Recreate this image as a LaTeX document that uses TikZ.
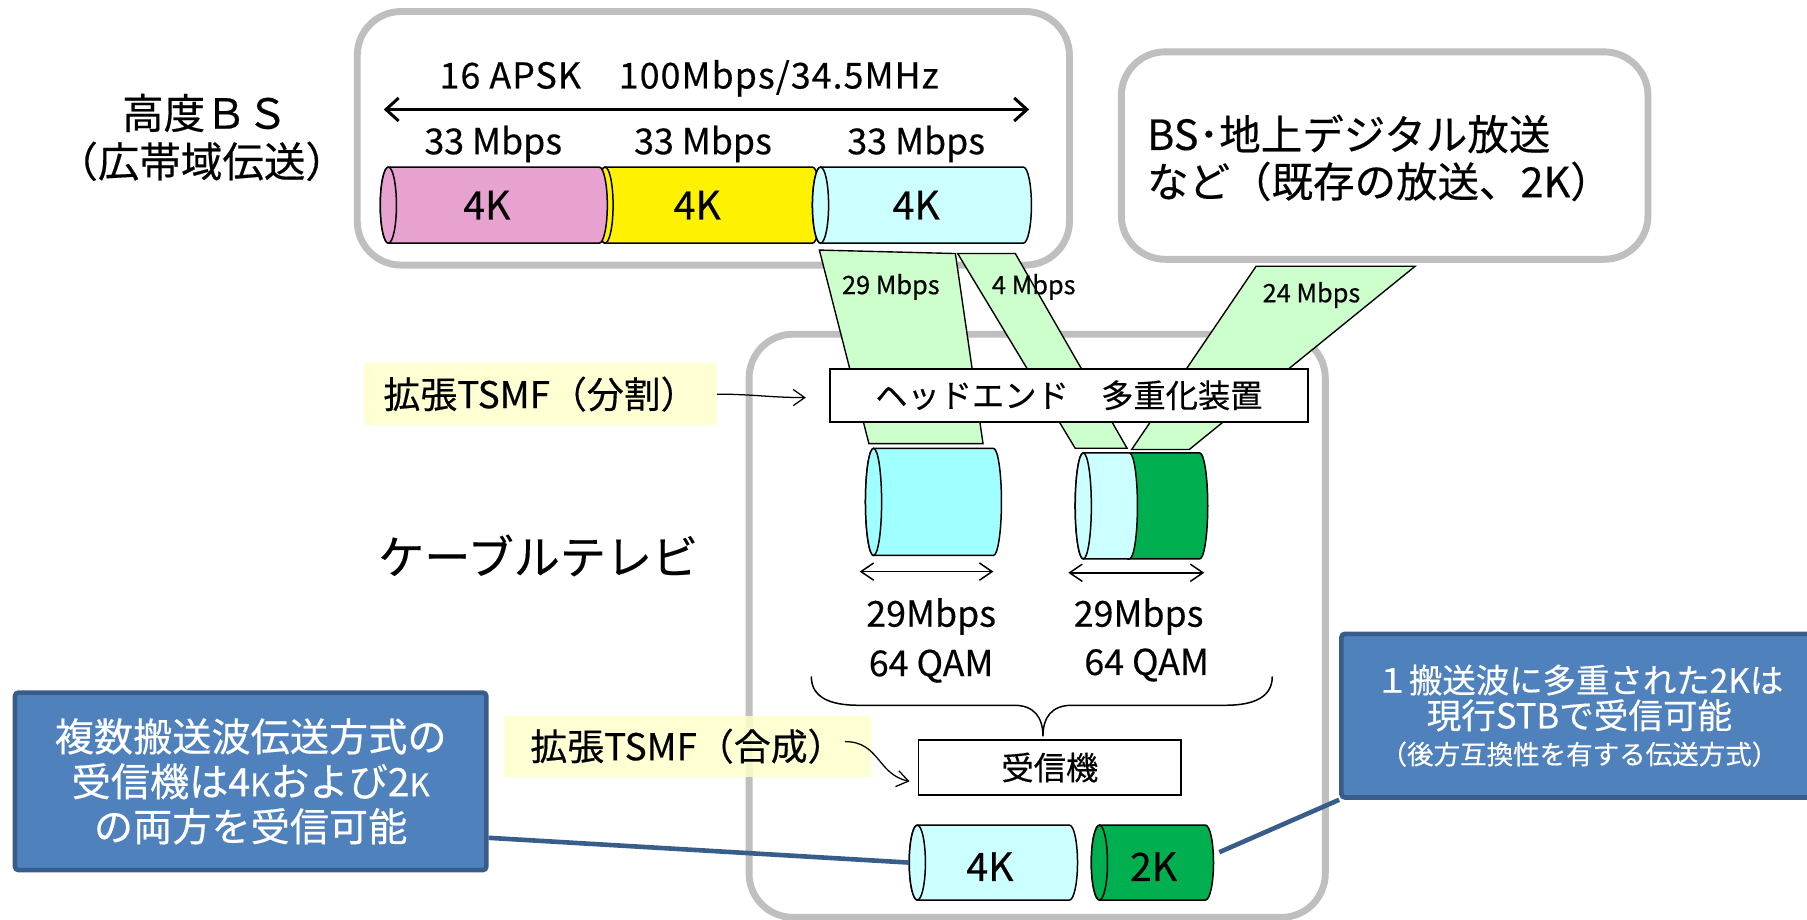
\documentclass[tikz,border=0pt]{standalone}
\usepackage{fontspec}
\newfontfamily\jpfont[FakeBold=0.4]{Noto Sans CJK JP}
\usetikzlibrary{arrows.meta,positioning}

\definecolor{panelgray}{HTML}{BFBFBF}
\definecolor{cylpink}{HTML}{E8A2D0}
\definecolor{cylcyan}{HTML}{CCFFFF}
\definecolor{cylaqua}{HTML}{A0FFFF}
\definecolor{cylgreen}{HTML}{00B050}
\definecolor{bandgreen}{HTML}{CCFFCC}
\definecolor{notebg}{HTML}{FFFFCC}
\definecolor{calloutblue}{HTML}{4F81BD}
\definecolor{calloutedge}{HTML}{385D8A}

\newcommand{\fsz}[2]{\jpfont\fontsize{#1pt}{#2pt}\selectfont}
\newcommand{\smallk}{{\fontsize{27pt}{40pt}\selectfont K}}

% horizontal cylinder: name, colour, left, right, top, bottom
\newcommand{\hcyl}[6]{%
  \filldraw[fill=#2, line width=1.3pt] (#3+7,#5) -- (#4-7,#5)
    arc (-90:90:7 and {(#6-#5)/2}) -- (#3+7,#6)
    arc (90:270:7 and {(#6-#5)/2}) -- cycle;
  \filldraw[fill=#2, line width=1.3pt] (#3+7,{(#5+#6)/2}) ellipse [x radius=7, y radius={(#6-#5)/2}];
  \coordinate (#1) at ({(#3+#4)/2},{(#5+#6)/2});
  \coordinate (#1-w) at (#3,{(#5+#6)/2});
  \coordinate (#1-e) at (#4,{(#5+#6)/2});
}

\tikzset{
  panel/.style={draw=panelgray, line width=6pt, rounded corners=38pt},
  band/.style={draw, fill=bandgreen, line width=1.2pt},
  block/.style={draw, fill=white, line width=1.5pt, inner sep=0pt},
  note/.style={fill=notebg, fill opacity=0.85, text opacity=1, inner sep=0pt},
  callout/.style={draw=calloutedge, fill=calloutblue, line width=4pt, rounded corners=3pt,
    text=white, align=center, inner sep=0pt},
  link/.style={draw=calloutedge, line width=4pt},
  spanarrow/.style={line width=2.6pt,
    {Straight Barb[length=11pt,width=20pt]}-{Straight Barb[length=11pt,width=20pt]}},
  ratearrow/.style={line width=1.3pt,
    {Straight Barb[length=11pt,width=15pt]}-{Straight Barb[length=11pt,width=15pt]}},
  pointer/.style={line width=1.1pt, -{Straight Barb[length=10pt,width=14pt]}},
}

\begin{document}
\begin{tikzpicture}[x=1pt, y=-1pt]
  \useasboundingbox (0,0) rectangle (1568,798);

  % panels
  \draw[panel] (310,10) rectangle (928,230);
  \draw[panel] (973,45) rectangle (1430,225);
  \draw[panel] (650,290) rectangle (1150,796);

  % advanced BS
  \node[font=\fsz{36}{36}] (hbs) at (178,98) {高度ＢＳ};
  \node[font=\fsz{36}{36}, inner sep=0pt] (hbswide) at (175,140) {（広帯域伝送）};

  \node[font=\fsz{31}{31}\addfontfeature{LetterSpace=3}] (mod) at (598,68) {16 APSK　100Mbps/34.5MHz};
  \coordinate (spanL) at (333,95);
  \coordinate (spanR) at (893,95);
  \draw[spanarrow] (spanL) -- (spanR);

  \node[font=\fsz{31}{31}] (rateA) at (428,125) {33 Mbps};
  \node[font=\fsz{31}{31}] (rateB) at (610,125) {33 Mbps};
  \node[font=\fsz{31}{31}] (rateC) at (795,125) {33 Mbps};

  \hcyl{cylB}{yellow}{518}{712}{145}{211}
  \hcyl{cylA}{cylpink}{330}{527}{145}{211}
  \hcyl{cylC}{cylcyan}{705}{895}{145}{211}
  \node[font=\fsz{34}{34}] (uhdA) at ([xshift=-6pt]cylA) {4K};
  \node[font=\fsz{34}{34}] (uhdB) at ([xshift=-10pt]cylB) {4K};
  \node[font=\fsz{34}{34}] (uhdC) at ([xshift=-5pt]cylC) {4K};

  % existing broadcasts
  \node[font=\fsz{36}{41}, align=left] (legacy) at (1197,137) {BS･地上デジタル放送\\など（既存の放送、2K）};

  % streams into the head end
  \draw[band] (711,217) -- (829,220) -- (853,385) -- (754,385) -- cycle;
  \draw[band] (831,220) -- (881,220) -- (978,389) -- (933,389) -- cycle;
  \draw[band] (1090,231) -- (1228,231) -- (1032,390) -- (982,390) -- cycle;
  \node[font=\fsz{22}{22}] (bandA) at (773,249) {29 Mbps};
  \node[font=\fsz{22}{22}] (bandB) at (897,249) {4 Mbps};
  \node[font=\fsz{22}{22}] (bandC) at (1138,256) {24 Mbps};

  \node[block, minimum width=415pt, minimum height=46pt, font=\fsz{28}{28}] (headend) at (927.5,343) {ヘッドエンド　多重化装置};

  \node[note, minimum width=306pt, minimum height=54pt, font=\fsz{32}{32}] (split) at (469,342) {拡張TSMF（分割）};
  \draw[pointer] (split.east) to[out=0,in=180] ([xshift=-20pt,yshift=-2pt]headend.west);

  % cable TV
  \node[font=\fsz{40}{40}] (catv) at (467,482) {ケーブルテレビ};

  \hcyl{cylD}{cylaqua}{751}{869}{389}{482}
  \hcyl{cylF}{cylgreen}{972}{1048}{393}{485}
  \hcyl{cylE}{cylcyan}{933}{987}{393}{485}

  \coordinate (chAL) at (746,496);
  \coordinate (chAR) at (862,496);
  \coordinate (chBL) at (927,497);
  \coordinate (chBR) at (1045,497);
  \draw[ratearrow] (chAL) -- (chAR);
  \draw[ratearrow] (chBL) -- (chBR);
  \node[font=\fsz{31}{31}] (qrateA) at (808,535) {29Mbps};
  \node[font=\fsz{31}{31}] (qamA) at (808,578) {64 QAM};
  \node[font=\fsz{31}{31}] (qrateB) at (988,535) {29Mbps};
  \node[font=\fsz{31}{31}] (qamB) at (995,577) {64 QAM};

  \coordinate (bracetip) at (905,639);
  \draw[line width=1.3pt] (704,587) .. controls (704,605) and (720,612) .. (745,612) -- (880,612)
    .. controls (897,612) and (905,622) .. (bracetip)
    .. controls (905,622) and (913,612) .. (930,612) -- (1063,612)
    .. controls (1088,612) and (1104,605) .. (1104,587);

  \node[block, minimum width=228pt, minimum height=48pt, font=\fsz{28}{28}] (rx) at (911,666) {受信機};

  \node[note, minimum width=319pt, minimum height=53pt, font=\fsz{32}{32}] (merge) at (596.5,647.5) {拡張TSMF（合成）};
  \draw[pointer] ([xshift=-23pt,yshift=4pt]merge.east) .. controls +(30,0) and +(-28,-6) .. ([xshift=-7pt,yshift=-12pt]rx.west);

  \hcyl{cylG}{cylcyan}{789}{935}{716}{781}
  \hcyl{cylH}{cylgreen}{947}{1053}{716}{781}
  \node[font=\fsz{34}{34}] (uhdG) at (859,752) {4K};
  \node[font=\fsz{34}{34}] (hdH) at (1001,752) {2K};

  % callouts
  \node[callout, minimum width=409pt, minimum height=154pt, font=\fsz{34}{39}] (noteL) at (217.5,678)
    {複数搬送波伝送方式の\\受信機は4\smallk および2\smallk\\の両方を受信可能};
  \node[callout, minimum width=413pt, minimum height=142pt, anchor=north west, font=\fsz{29}{31}] (noteR) at (1162,548)
    {１搬送波に多重された2Kは\\{\fsz{30}{31}現行STBで受信可能}\\{\fsz{23}{31}（後方互換性を有する伝送方式）}};

  \draw[link] ([yshift=-49pt]noteL.east) -- (cylG-w);
  \draw[link] ([xshift=5pt,yshift=9pt]cylH-e) -- (noteR.south west);
\end{tikzpicture}
\end{document}
